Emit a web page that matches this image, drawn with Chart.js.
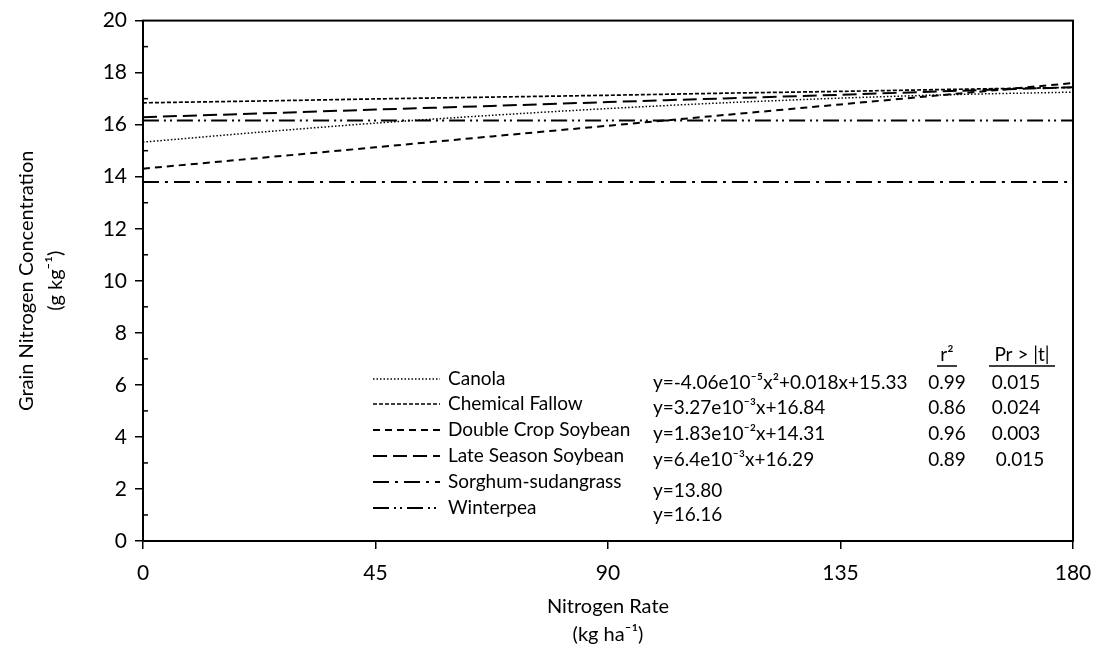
<!DOCTYPE html>
<html>
<head>
<meta charset="utf-8">
<script src="https://cdn.jsdelivr.net/npm/chart.js@4.4.0/dist/chart.umd.min.js"></script>
<style>
  html, body { margin: 0; padding: 0; background: #fff; }
  #wrap { width: 1112px; height: 655px; position: relative; }
</style>
</head>
<body>
<div id="wrap"><canvas id="myChart"></canvas></div>
<script>
// nitrogen rate (kg ha-1)
const nRates = [0, 22.5, 45, 67.5, 90, 112.5, 135, 157.5, 180];
// grain N concentration (g kg-1)
const canola = [15.33, 15.71, 16.06, 16.36, 16.62, 16.84, 17.02, 17.16, 17.25];
const chemFallow = [16.84, 16.91, 16.99, 17.06, 17.13, 17.21, 17.28, 17.36, 17.43];
const doubleCrop = [14.31, 14.72, 15.13, 15.55, 15.96, 16.37, 16.78, 17.19, 17.60];
const lateSeason = [16.29, 16.43, 16.58, 16.72, 16.87, 17.01, 17.15, 17.30, 17.44];
const sorghum = [13.80, 13.80, 13.80, 13.80, 13.80, 13.80, 13.80, 13.80, 13.80];
const winterpea = [16.16, 16.16, 16.16, 16.16, 16.16, 16.16, 16.16, 16.16, 16.16];

const seriesNames = ['Canola', 'Chemical Fallow', 'Double Crop Soybean', 'Late Season Soybean', 'Sorghum-sudangrass', 'Winterpea'];
const equations = ['y=-4.06e10\u207B\u2075x\u00B2+0.018x+15.33', 'y=3.27e10\u207B\u00B3x+16.84', 'y=1.83e10\u207B\u00B2x+14.31', 'y=6.4e10\u207B\u00B3x+16.29', 'y=13.80', 'y=16.16'];
const rSquared = ['0.99', '0.86', '0.96', '0.89'];
const prValues = ['0.015', '0.024', '0.003', '0.015'];

const FONT = 'Lato, "Liberation Sans", sans-serif';

// line styles for each series
const styles = [
    { dash: [1.5, 2], width: 1.5 },
    { dash: [4, 2], width: 1.7 },
    { dash: [7, 5], width: 2 },
    { dash: [14, 6], width: 2 },
    { dash: [16, 6, 3, 6], width: 2 },
    { dash: [16, 5, 2, 4, 2, 5], width: 2 }
];

const allData = [canola, chemFallow, doubleCrop, lateSeason, sorghum, winterpea];

const datasets = allData.map(function(vals, i) {
    return {
        label: seriesNames[i],
        data: vals.map(function(v, j) { return { x: nRates[j], y: v }; }),
        borderColor: '#000',
        borderWidth: styles[i].width,
        borderDash: styles[i].dash,
        pointRadius: 0,
        fill: false,
        tension: 0.3
    };
});

// frame, minor ticks and the legend/equation table
const extrasPlugin = {
    id: 'extras',
    afterDraw: function(chart) {
        const ctx = chart.ctx;
        const a = chart.chartArea;
        const ys = chart.scales.y;
        ctx.save();
        ctx.strokeStyle = '#000';
        ctx.lineWidth = 2;
        ctx.setLineDash([]);
        ctx.strokeRect(a.left, a.top, a.right - a.left, a.bottom - a.top);

        // minor ticks on y
        ctx.lineWidth = 1.5;
        for (let v = 1; v < 20; v += 2) {
            const py = ys.getPixelForValue(v);
            ctx.beginPath();
            ctx.moveTo(a.left, py);
            ctx.lineTo(a.left + 5, py);
            ctx.stroke();
        }

        // legend
        const rowY = [379, 404, 430, 456, 482, 508];
        const eqY = [383, 408, 434, 460, 491, 515];
        ctx.font = '19px ' + FONT;
        ctx.fillStyle = '#000';
        ctx.textBaseline = 'middle';
        for (let i = 0; i < seriesNames.length; i++) {
            ctx.lineWidth = styles[i].width;
            ctx.setLineDash(styles[i].dash);
            ctx.beginPath();
            ctx.moveTo(373, rowY[i]);
            ctx.lineTo(440, rowY[i]);
            ctx.stroke();
            ctx.setLineDash([]);
            ctx.textAlign = 'left';
            ctx.fillText(seriesNames[i], 448, rowY[i]);
            ctx.fillText(equations[i], 653, eqY[i]);
        }
        for (let i = 0; i < rSquared.length; i++) {
            ctx.textAlign = 'center';
            ctx.fillText(rSquared[i], 947, eqY[i]);
            ctx.fillText(prValues[i], i === 3 ? 1020 : 1016, eqY[i]);
        }
        // column headers
        ctx.textAlign = 'center';
        ctx.fillText('r\u00B2', 947, 355);
        ctx.fillText('Pr > |t|', 1022, 355);
        ctx.lineWidth = 1.3;
        ctx.beginPath();
        ctx.moveTo(937, 366); ctx.lineTo(957, 366);
        ctx.moveTo(989, 366); ctx.lineTo(1055, 366);
        ctx.stroke();
        ctx.restore();
    }
};

const ctx = document.getElementById('myChart').getContext('2d');
window.myChart = new Chart(ctx, {
    type: 'line',
    data: { datasets: datasets },
    options: {
        responsive: true,
        maintainAspectRatio: false,
        animation: false,
        layout: { padding: { top: 16, right: 39, left: 8, bottom: 0 } },
        plugins: {
            legend: { display: false },
            tooltip: { enabled: false }
        },
        scales: {
            x: {
                type: 'linear',
                min: 0,
                max: 180,
                ticks: { stepSize: 45, color: '#000', font: { family: FONT, size: 21 }, padding: 12 },
                grid: { drawOnChartArea: false, color: '#000', tickLength: 8, lineWidth: 1.5 },
                border: { color: '#000', width: 2 },
                title: {
                    display: true,
                    text: ['Nitrogen Rate', '(kg ha\u207B\u00B9)'],
                    color: '#000',
                    font: { family: FONT, size: 20, lineHeight: 1.4 },
                    padding: { top: 0, bottom: 6 }
                },
                afterFit: function(scale) { scale.height = 114; }
            },
            y: {
                min: 0,
                max: 20,
                ticks: { stepSize: 2, color: '#000', font: { family: FONT, size: 21 }, padding: 8 },
                grid: { drawOnChartArea: false, color: '#000', tickLength: 8, lineWidth: 1.5 },
                border: { color: '#000', width: 2 },
                title: {
                    display: true,
                    text: ['Grain Nitrogen Concentration', '(g kg\u207B\u00B9)'],
                    color: '#000',
                    font: { family: FONT, size: 20, lineHeight: 1.45 },
                    padding: { top: 4, bottom: 14 }
                },
                afterFit: function(scale) { scale.width = 135; }
            }
        }
    },
    plugins: [extrasPlugin]
});
</script>
</body>
</html>
